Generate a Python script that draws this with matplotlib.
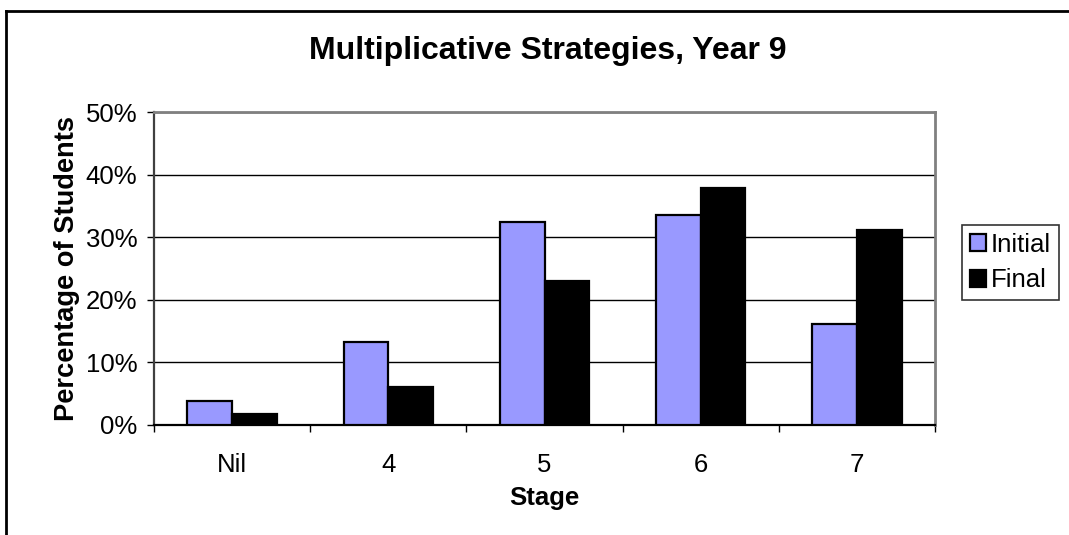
import matplotlib
matplotlib.use("Agg")
import matplotlib.pyplot as plt
import numpy as np
from matplotlib.lines import Line2D
from matplotlib.ticker import PercentFormatter, FixedLocator

categories = ["Nil", "4", "5", "6", "7"]
initial = [3.9, 13.2, 32.5, 33.5, 16.2]
final = [1.8, 6.1, 23.0, 37.8, 31.2]
yticks = [0, 10, 20, 30, 40, 50]

plt.rcParams['font.family'] = ['Liberation Sans', 'DejaVu Sans']

W, H = 1069, 535
fig = plt.figure(figsize=(W / 100, H / 100), dpi=100)
ax = fig.add_axes([154 / W, 1 - 425 / H, (935 - 154) / W, (425 - 112) / H])

x = np.arange(len(categories))
bw = 1 / 3.5
ax.bar(x - bw / 2, initial, bw, color="#9999FF", edgecolor="#000000", linewidth=1.6, label="Initial", zorder=3)
ax.bar(x + bw / 2, final, bw, color="#000000", edgecolor="#000000", linewidth=1.6, label="Final", zorder=3)

ax.set_xlim(-0.5, len(categories) - 0.5)
ax.set_ylim(0, 50)
ax.set_yticks(yticks)
ax.yaxis.set_major_formatter(PercentFormatter(decimals=0))
ax.yaxis.grid(True, color="#000000", linewidth=1.0, zorder=0)
ax.set_axisbelow(True)

ax.set_xticks(x)
ax.set_xticklabels(categories)
ax.xaxis.set_minor_locator(FixedLocator(np.arange(-0.5, len(categories), 1.0)))
ax.tick_params(axis="x", which="major", length=0, pad=20, labelsize=18.5)
ax.tick_params(axis="x", which="minor", length=5, width=1.0, direction="out", color="#000000")
ax.tick_params(axis="y", which="major", length=5, width=1.0, direction="out", pad=7, labelsize=18.5, color="#000000")

for side in ["top", "right"]:
    ax.spines[side].set_color("#808080")
    ax.spines[side].set_linewidth(2)
ax.spines["left"].set_color("#404040")
ax.spines["left"].set_linewidth(1.6)
ax.spines["bottom"].set_color("#000000")
ax.spines["bottom"].set_linewidth(1.6)

ax.set_xlabel("Stage", fontsize=18.5, fontweight="bold", labelpad=7)
ax.set_ylabel("Percentage of Students", fontsize=19.6, fontweight="bold", labelpad=4)

fig.text(548 / W, 1 - 51 / H, "Multiplicative Strategies, Year 9", fontsize=23, fontweight="bold",
         ha="center", va="center")

leg = fig.legend(loc="upper left", bbox_to_anchor=(962 / W, 1 - 225 / H), fontsize=18.5,
                 frameon=True, fancybox=False, shadow=False, edgecolor="#000000",
                 handlelength=0.62, handleheight=0.62, handletextpad=0.2,
                 borderpad=0.3, labelspacing=0.45, borderaxespad=0)
leg.get_frame().set_linewidth(1.2)

# outer chart border (left and top)
fig.add_artist(Line2D([6 / W, 6 / W], [0, 1 - 11 / H], color="#000000", linewidth=2, transform=fig.transFigure))
fig.add_artist(Line2D([6 / W, 1], [1 - 11 / H, 1 - 11 / H], color="#000000", linewidth=2, transform=fig.transFigure))

fig.savefig("out.png", dpi=100, facecolor="white")
